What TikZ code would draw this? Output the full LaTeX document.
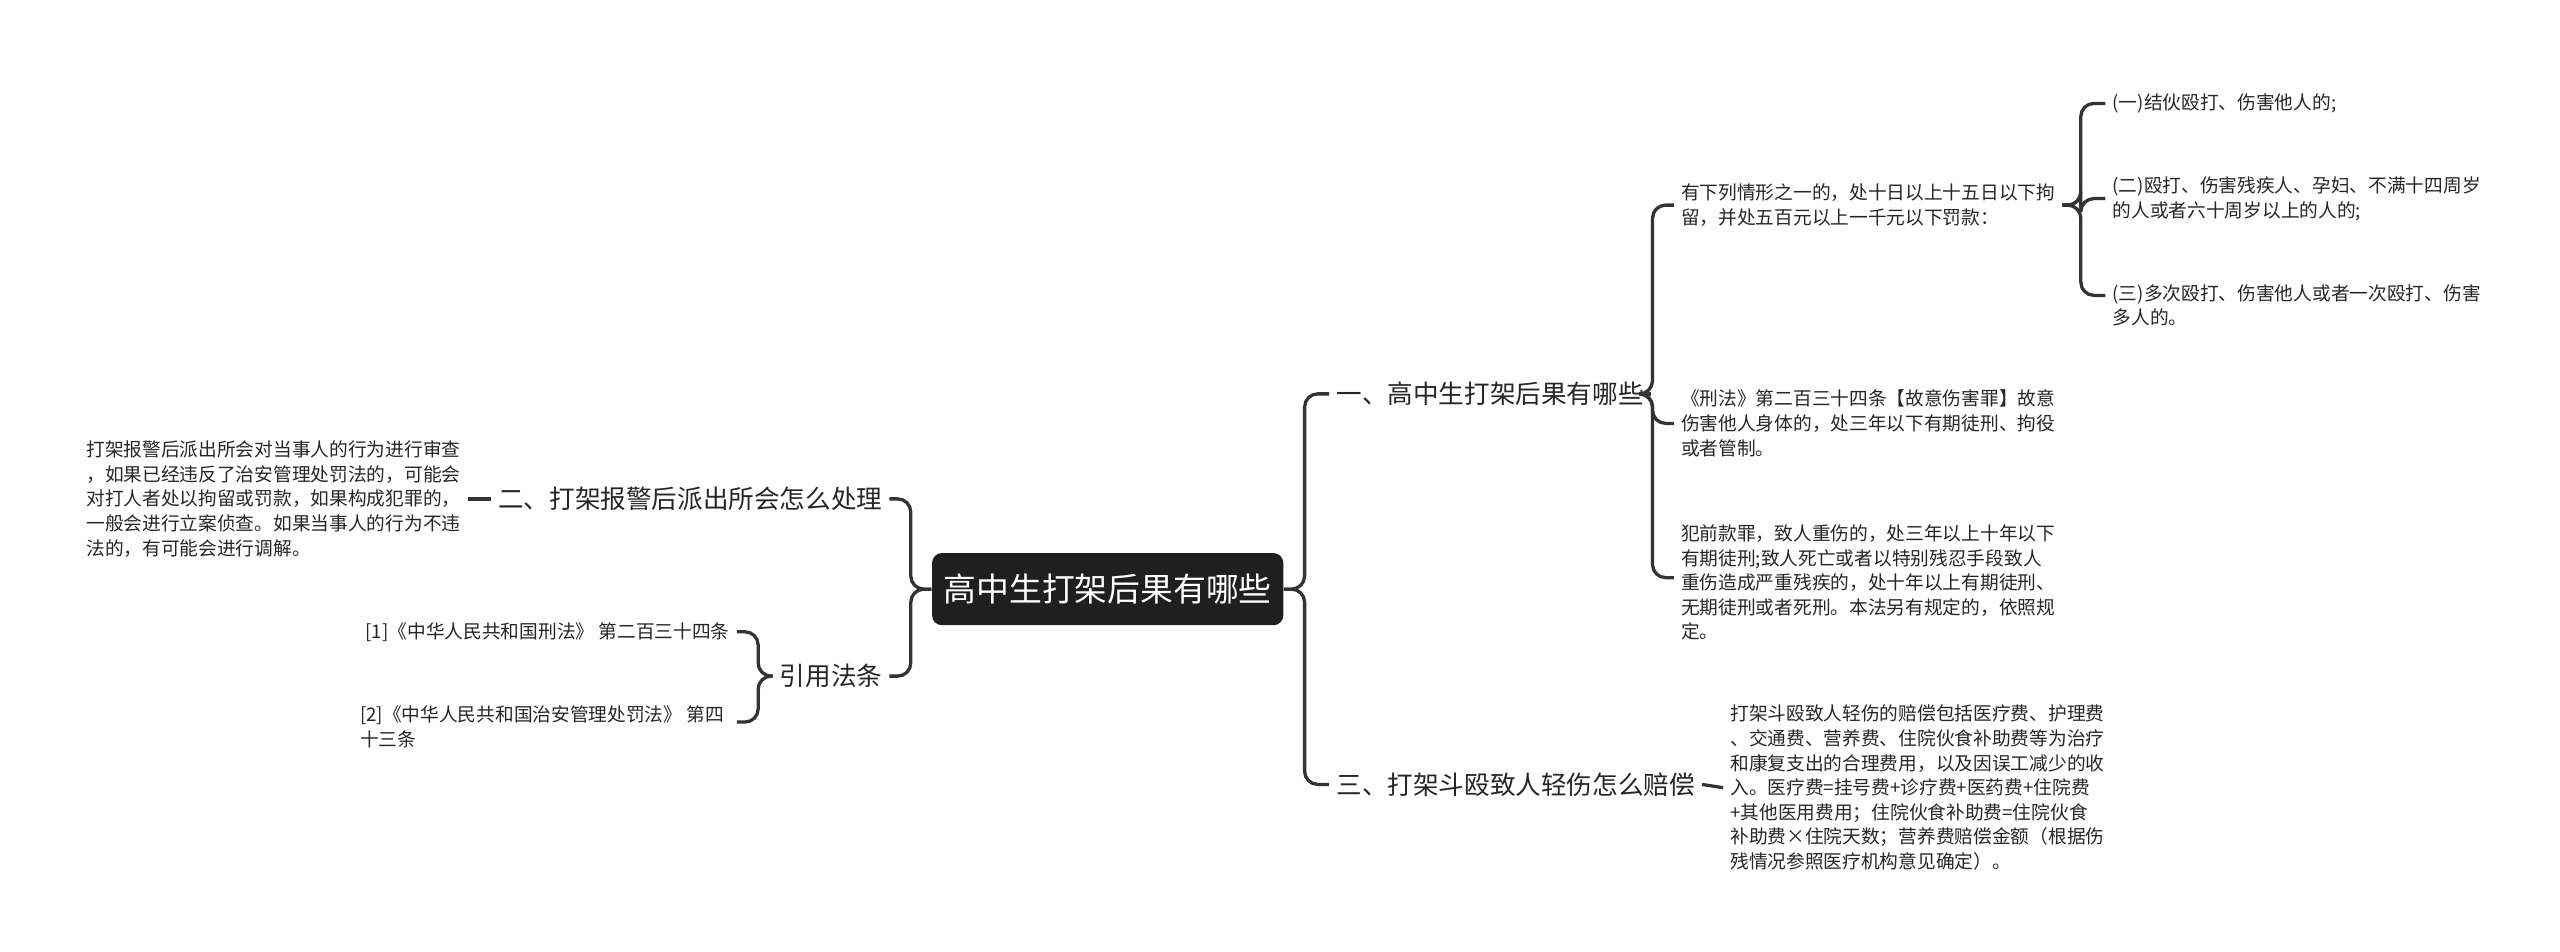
\documentclass[tikz,border=0pt]{standalone}
\usepackage{fontspec}
\setmainfont{Noto Sans CJK SC}
\begin{document}
\begin{tikzpicture}[x=0.5pt,y=-0.5pt,
  small/.style={font=\fontsize{5.7}{7.5}\selectfont,align=left,inner sep=2pt,text=black!85},
  lab/.style={font=\fontsize{7.8}{9}\selectfont,inner sep=2pt,text=black!85},
  conn/.style={draw=black!80,line width=1pt,rounded corners=4pt}]
\useasboundingbox (0,0) rectangle (1560,580);
\node[fill=black!88,rounded corners=3pt,text=white,font=\fontsize{10}{12}\selectfont,minimum width=107pt,minimum height=22pt,inner sep=0pt] (root) at (675,359) {高中生打架后果有哪些};
% right
\node[lab,anchor=west] (b1) at (810,240) {一、高中生打架后果有哪些};
\node[lab,anchor=west] (b3) at (810,478) {三、打架斗殴致人轻伤怎么赔偿};
\node[small,anchor=west] (l1) at (1020,125) {有下列情形之一的，处十日以上十五日以下拘\\留，并处五百元以上一千元以下罚款：};
\node[small,anchor=west] (l2) at (1020,258) {《刑法》第二百三十四条【故意伤害罪】故意\\伤害他人身体的，处三年以下有期徒刑、拘役\\或者管制。};
\node[small,anchor=west] (l3) at (1020,355) {犯前款罪，致人重伤的，处三年以上十年以下\\有期徒刑;致人死亡或者以特别残忍手段致人\\重伤造成严重残疾的，处十年以上有期徒刑、\\无期徒刑或者死刑。本法另有规定的，依照规\\定。};
\node[small,anchor=west] (s1) at (1283,63) {(一)结伙殴打、伤害他人的;};
\node[small,anchor=west] (s2) at (1283,121) {(二)殴打、伤害残疾人、孕妇、不满十四周岁\\的人或者六十周岁以上的人的;};
\node[small,anchor=west] (s3) at (1283,186) {(三)多次殴打、伤害他人或者一次殴打、伤害\\多人的。};
\node[small,anchor=west] (l4) at (1050,480) {打架斗殴致人轻伤的赔偿包括医疗费、护理费\\、交通费、营养费、住院伙食补助费等为治疗\\和康复支出的合理费用，以及因误工减少的收\\入。医疗费=挂号费+诊疗费+医药费+住院费\\+其他医用费用；住院伙食补助费=住院伙食\\补助费×住院天数；营养费赔偿金额（根据伤\\残情况参照医疗机构意见确定）。};
% left
\node[lab,anchor=east] (b2) at (542,304) {二、打架报警后派出所会怎么处理};
\node[lab,anchor=east] (b4) at (542,412) {引用法条};
\node[small,anchor=east] (t2) at (285,304) {打架报警后派出所会对当事人的行为进行审查\\，如果已经违反了治安管理处罚法的，可能会\\对打人者处以拘留或罚款，如果构成犯罪的，\\一般会进行立案侦查。如果当事人的行为不违\\法的，有可能会进行调解。};
\node[small,anchor=east] (r1) at (449,385) {[1]《中华人民共和国刑法》 第二百三十四条};
\node[small,anchor=west] (r2) at (215,443) {[2]《中华人民共和国治安管理处罚法》 第四\\十三条};
% connectors
\draw[conn] (root.east) -- (795,359) |- (b1.west);
\draw[conn] (root.east) -- (795,359) |- (b3.west);
\draw[conn] (root.west) -- (555,359) |- (b2.east);
\draw[conn] (root.west) -- (555,359) |- (b4.east);
\draw[conn] (b1.east) -- (1007,240) |- (l1.west);
\draw[conn] (b1.east) -- (1007,240) |- (1020,258);
\draw[conn] (b1.east) -- (1007,240) |- (1020,352);
\draw[conn] (l1.east) -- (1268,125) |- (1283,63);
\draw[conn] (l1.east) -- (1268,125) |- (1283,121);
\draw[conn] (l1.east) -- (1268,125) |- (1283,180);
\draw[conn] (b3.east) -- (l4.west);
\draw[conn] (b2.west) -- (t2.east);
\draw[conn] (b4.west) -- (462,412) |- (r1.east);
\draw[conn] (b4.west) -- (462,412) |- (449,440);
\end{tikzpicture}
\end{document}
